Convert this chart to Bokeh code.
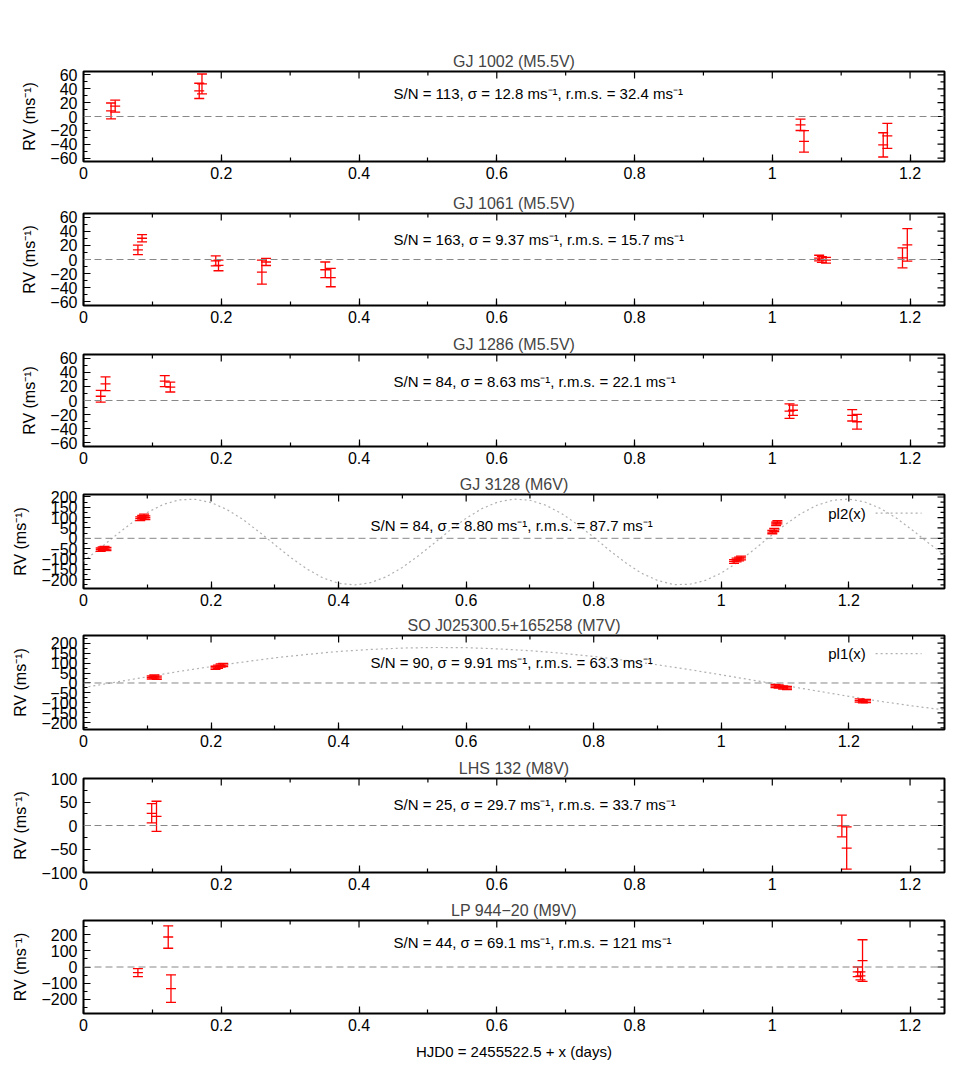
from bokeh.plotting import figure
from bokeh.models import (ColumnDataSource, Whisker, TeeHead, Span, Label,
                          SingleIntervalTicker, CustomJSTickFormatter, Range1d)
from bokeh.layouts import column
from bokeh.embed import file_html
from bokeh.resources import INLINE

# ---------------- data ----------------
titles = ["GJ 1002 (M5.5V)", "GJ 1061 (M5.5V)", "GJ 1286 (M5.5V)", "GJ 3128 (M6V)",
          "SO J025300.5+165258 (M7V)", "LHS 132 (M8V)", "LP 944\u221220 (M9V)"]
notes = ["S/N = 113, \u03c3 = 12.8 ms\u207b\u00b9, r.m.s. = 32.4 ms\u207b\u00b9",
         "S/N = 163, \u03c3 = 9.37 ms\u207b\u00b9, r.m.s. = 15.7 ms\u207b\u00b9",
         "S/N = 84, \u03c3 = 8.63 ms\u207b\u00b9, r.m.s. = 22.1 ms\u207b\u00b9",
         "S/N = 84, \u03c3 = 8.80 ms\u207b\u00b9, r.m.s. = 87.7 ms\u207b\u00b9",
         "S/N = 90, \u03c3 = 9.91 ms\u207b\u00b9, r.m.s. = 63.3 ms\u207b\u00b9",
         "S/N = 25, \u03c3 = 29.7 ms\u207b\u00b9, r.m.s. = 33.7 ms\u207b\u00b9",
         "S/N = 44, \u03c3 = 69.1 ms\u207b\u00b9, r.m.s. = 121 ms\u207b\u00b9"]

gj1002_x = [0.040, 0.046, 0.168, 0.172, 1.041, 1.046, 1.161, 1.167]
gj1002_rv = [8, 15, 37, 47, -12, -36, -41, -28]
gj1002_err = [11.5, 8.6, 11, 14.4, 8.2, 15.6, 17.5, 18]

gj1061_x = [0.079, 0.085, 0.192, 0.196, 0.259, 0.265, 0.351, 0.359, 1.068, 1.072, 1.078, 1.189, 1.196]
gj1061_rv = [13.6, 30, -2, -8.4, -17.8, -3.5, -14.5, -25.5, 2, 0, -1, 2.3, 20.6]
gj1061_err = [6.6, 5.2, 7, 7.5, 17, 5, 11, 13, 4, 4, 4, 14, 23]

gj1286_x = [0.025, 0.032, 0.118, 0.126, 1.025, 1.030, 1.116, 1.123]
gj1286_rv = [6, 23.6, 27.4, 19, -15, -13.8, -21, -30]
gj1286_err = [8.4, 9.7, 7.7, 7, 10.3, 7.3, 8, 10.5]

gj3128_x = [0.027, 0.030, 0.033, 0.036, 0.089, 0.092, 0.095, 0.097,
            1.020, 1.024, 1.028, 1.031, 1.080, 1.083, 1.086, 1.088]
gj3128_rv = [-55, -50, -47, -52, 95, 102, 108, 100, -112, -105, -100, -95, 30, 40, 70, 78]
gj3128_err = [8, 8, 8, 8, 9, 9, 9, 9, 9, 9, 9, 9, 8, 8, 8, 8]

so0253_x = [0.107, 0.111, 0.115, 0.207, 0.211, 0.215, 0.219,
            1.085, 1.090, 1.097, 1.103, 1.217, 1.222, 1.227]
so0253_rv = [28, 32, 26, 76, 82, 88, 90, -15, -18, -22, -25, -88, -92, -90]
so0253_err = [8, 8, 8, 8, 8, 8, 8, 8, 8, 8, 8, 8, 8, 8]

lhs132_x = [0.099, 0.106, 1.101, 1.108]
lhs132_rv = [26, 19.6, -1, -48]
lhs132_err = [20.6, 32, 23, 45]

lp944_x = [0.079, 0.123, 0.127, 1.124, 1.128, 1.131]
lp944_rv = [-35, 187, -135, -30, -55, 40]
lp944_err = [25, 70, 86, 30, 25, 130]

# model curves
pl2_x = [0.000, 0.025, 0.050, 0.075, 0.100, 0.125, 0.150, 0.175, 0.200, 0.225, 0.250, 0.275,
         0.300, 0.325, 0.350, 0.375, 0.400, 0.425, 0.450, 0.475, 0.500, 0.525, 0.550, 0.575,
         0.600, 0.625, 0.650, 0.675, 0.700, 0.725, 0.750, 0.775, 0.800, 0.825, 0.850, 0.875,
         0.900, 0.925, 0.950, 0.975, 1.000, 1.025, 1.050, 1.075, 1.100, 1.125, 1.150, 1.175,
         1.200, 1.225, 1.250, 1.275, 1.300, 1.325, 1.350]
pl2_y = [-111, -51, 13, 73, 125, 164, 186, 189, 173, 139, 91, 32,
         -31, -93, -148, -191, -218, -226, -215, -186, -141, -85, -23, 40,
         97, 144, 176, 190, 184, 160, 119, 66, 5, -59, -118, -169,
         -204, -224, -223, -204, -168, -118, -58, 5, 66, 120, 160, 184,
         190, 176, 144, 97, 39, -23, -80]

pl1_x = [0.00, 0.05, 0.10, 0.15, 0.20, 0.25, 0.30, 0.35, 0.40, 0.45, 0.50, 0.55, 0.60, 0.65,
         0.70, 0.75, 0.80, 0.85, 0.90, 0.95, 1.00, 1.05, 1.10, 1.15, 1.20, 1.25, 1.30, 1.35]
pl1_y = [-23, 4, 31, 58, 82, 105, 126, 143, 158, 168, 175, 178, 177, 171,
         162, 149, 133, 113, 91, 67, 41, 14, -13, -40, -67, -92, -115, -135]

# ---------------- layout / style ----------------
FONT = "Liberation Sans"
RED = "#ff0000"
FW = 861
series = [(gj1002_x, gj1002_rv, gj1002_err), (gj1061_x, gj1061_rv, gj1061_err),
          (gj1286_x, gj1286_rv, gj1286_err), (gj3128_x, gj3128_rv, gj3128_err),
          (so0253_x, so0253_rv, so0253_err), (lhs132_x, lhs132_rv, lhs132_err),
          (lp944_x, lp944_rv, lp944_err)]
xmax = [1.25, 1.25, 1.25, 1.35, 1.35, 1.25, 1.25]
yrng = [(-65, 65), (-65, 65), (-65, 65), (-243, 212), (-233, 238), (-100, 100), (-290, 290)]
ymaj = [20, 20, 20, 50, 50, 50, 100]
note_y = [33, 28, 27, 63, 105, 45, 154]
frame_h = [90, 92, 92, 94, 94, 94, 93]
top_b = [71, 29, 26, 25, 24, 26, 25]
bot_b = [23, 23, 23, 23, 23, 23, 55]
curves = {3: (pl2_x, pl2_y, "pl2(x)", 122), 4: (pl1_x, pl1_y, "pl1(x)", 147)}

yfmt = CustomJSTickFormatter(code="return (tick < 0 ? '\u2212' : '') + Math.abs(tick).toString();")
xfmt = CustomJSTickFormatter(code="return Number(tick.toFixed(3)).toString();")


def style_axis(ax, label_px):
    ax.axis_line_color = None
    ax.major_tick_in = 7
    ax.major_tick_out = 0
    ax.minor_tick_in = 4
    ax.minor_tick_out = 0
    ax.major_tick_line_color = "black"
    ax.minor_tick_line_color = "black"
    ax.major_tick_line_width = 1.2
    ax.minor_tick_line_width = 1.2
    ax.major_label_text_font = FONT
    ax.major_label_text_font_size = "16px"
    ax.major_label_text_color = "black"
    ax.axis_label_text_font = FONT
    ax.axis_label_text_font_style = "normal"
    ax.axis_label_text_font_size = label_px
    ax.axis_label_text_color = "black"


def mirror_ticks(p, x1, y0, y1, xstep, ystep, fh):
    """Inward ticks on the top and right borders (gnuplot 'mirror')."""
    dx = x1 / FW
    dy = (y1 - y0) / fh
    nx = int(round(x1 / (xstep / 2)))
    xt = [k * xstep / 2 for k in range(nx + 1) if k * xstep / 2 <= x1 + 1e-9]
    xl = [7 if k % 2 == 0 else 4 for k in range(len(xt))]
    p.segment(x0=xt, x1=xt, y0=[y1] * len(xt), y1=[y1 - L * dy for L in xl],
              line_color="black", line_width=1.2)
    k0 = int(-(-y0 // (ystep / 2)))
    yt = []
    yl = []
    k = k0
    while k * ystep / 2 <= y1:
        yt.append(k * ystep / 2)
        yl.append(7 if k % 2 == 0 else 4)
        k += 1
    p.segment(x0=[x1] * len(yt), x1=[x1 - L * dx for L in yl], y0=yt, y1=yt,
              line_color="black", line_width=1.2)


figs = []
for i in range(7):
    xs, ys, es = series[i]
    p = figure(frame_width=FW, frame_height=frame_h[i],
               x_range=Range1d(0, xmax[i]), y_range=Range1d(*yrng[i]),
               output_backend="svg", toolbar_location=None,
               min_border_left=83, min_border_right=6,
               min_border_top=top_b[i], min_border_bottom=bot_b[i],
               title=titles[i])
    p.background_fill_color = "white"
    p.border_fill_color = "white"
    p.xgrid.visible = False
    p.ygrid.visible = False
    p.outline_line_color = "black"
    p.outline_line_width = 2
    p.outline_line_alpha = 1
    p.title.align = "center"
    p.title.text_font = FONT
    p.title.text_font_size = "16px"
    p.title.text_font_style = "normal"
    p.title.standoff = 4

    p.xaxis.ticker = SingleIntervalTicker(interval=0.2, num_minor_ticks=2)
    p.yaxis.ticker = SingleIntervalTicker(interval=ymaj[i], num_minor_ticks=2)
    p.xaxis.formatter = xfmt
    p.yaxis.formatter = yfmt
    style_axis(p.xaxis[0], "15px")
    style_axis(p.yaxis[0], "16px")
    p.xaxis.major_label_standoff = 5
    p.yaxis.major_label_standoff = 6
    p.yaxis.axis_label = "RV (ms\u207b\u00b9)"
    p.yaxis.axis_label_standoff = 9
    if i == 6:
        p.xaxis.axis_label = "HJD0 = 2455522.5 + x (days)"
        p.xaxis.axis_label_standoff = 9

    mirror_ticks(p, xmax[i], yrng[i][0], yrng[i][1], 0.2, ymaj[i], frame_h[i])

    p.add_layout(Span(location=0, dimension="width", line_color="#888888",
                      line_dash="7 4", line_width=1))

    if i in curves:
        cx, cy, cname, ly = curves[i]
        p.line(cx, cy, line_color="#b0b0b0", line_dash="2 3", line_width=1.2)
        p.add_layout(Label(x=1.2265, y=ly, text=cname, text_align="right",
                           text_baseline="middle", text_font=FONT, text_font_size="15px",
                           text_color="black"))
        p.line([1.242, 1.314], [ly, ly], line_color="#b0b0b0", line_dash="2 3",
               line_width=1.2)

    src = ColumnDataSource(dict(x=xs, y=ys,
                                upper=[v + e for v, e in zip(ys, es)],
                                lower=[v - e for v, e in zip(ys, es)]))
    p.add_layout(Whisker(source=src, base="x", upper="upper", lower="lower",
                         dimension="height", line_color=RED, line_width=1.3,
                         upper_head=TeeHead(size=10, line_color=RED, line_width=1.3),
                         lower_head=TeeHead(size=10, line_color=RED, line_width=1.3),
                         level="glyph"))
    p.scatter("x", "y", source=src, marker="dash", size=10, line_color=RED,
              line_width=1.3)

    p.add_layout(Label(x=0.45, y=note_y[i], text=notes[i], text_align="left",
                       text_baseline="middle", text_font=FONT, text_font_size="15px",
                       text_color="black"))
    figs.append(p)

layout = column(*figs, spacing=0)
open("out.html", "w").write(file_html(layout, INLINE, title="RV panels"))
